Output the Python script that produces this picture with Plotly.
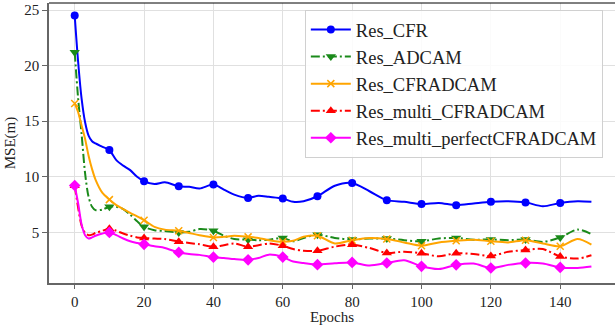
import plotly.graph_objects as go

epochs = [0, 1, 2, 3, 4, 5, 6, 8, 10, 12, 14, 16, 18, 20, 23, 26, 30, 33, 36, 40,
          43, 46, 50, 53, 56, 60, 63, 66, 70, 75, 80, 85, 90, 95, 100, 105, 110,
          115, 120, 125, 130, 135, 140, 145, 149]

res_cfr = [24.5, 20.3, 17.0, 14.9, 13.7, 13.2, 13.0, 12.7, 12.4, 11.5, 11.0, 10.6, 10.0, 9.6,
           9.35, 9.5, 9.15, 9.1, 8.95, 9.3, 8.85, 8.4, 8.1, 8.3, 8.2, 8.05, 7.75, 7.8, 8.25,
           9.2, 9.45, 8.7, 7.9, 7.75, 7.55, 7.65, 7.45, 7.6, 7.75, 7.8, 7.7, 7.35, 7.65, 7.8, 7.75]
res_adcam = [21.2, 17.0, 13.8, 10.3, 8.2, 7.3, 7.0, 7.05, 7.3, 7.3, 7.1, 6.6, 6.0, 5.5,
             5.2, 5.13, 5.0, 5.05, 5.3, 5.15, 4.7, 4.4, 4.35, 4.3, 4.35, 4.5, 4.2, 4.5, 4.8,
             4.5, 4.37, 4.45, 4.45, 4.3, 4.2, 4.45, 4.5, 4.35, 4.37, 4.3, 4.37, 4.15, 4.55, 5.25, 4.85]
res_cfradcam = [16.6, 15.8, 14.6, 13.4, 11.9, 10.7, 9.75, 8.55, 7.95, 7.45, 7.1, 6.75, 6.45, 6.1,
                5.5, 5.25, 5.15, 4.95, 4.75, 4.55, 4.6, 4.7, 4.6, 4.5, 4.3, 4.15, 4.25, 4.6, 4.7,
                4.0, 4.3, 4.5, 4.4, 4.1, 3.8, 4.1, 4.25, 4.35, 4.2, 4.1, 4.3, 4.0, 3.75, 4.4, 3.9]
res_multi_cfradcam = [9.2, 7.2, 5.6, 4.95, 4.75, 4.8, 4.95, 5.15, 5.33, 5.15, 4.9, 4.7, 4.55, 4.5,
                      4.45, 4.4, 4.17, 4.05, 3.93, 3.72, 3.85, 4.0, 3.72, 3.85, 4.0, 3.8, 3.5, 3.35, 3.35,
                      3.72, 3.9, 3.6, 3.15, 3.27, 3.13, 2.85, 3.13, 3.05, 2.88, 3.25, 3.42, 3.5, 2.83, 2.65, 2.95]
res_multi_perfect = [9.22, 7.6, 5.7, 4.75, 4.45, 4.55, 4.7, 4.9, 5.0, 4.75, 4.45, 4.2, 4.05, 3.93,
                     3.75, 3.6, 3.2, 3.05, 2.98, 2.77, 2.7, 2.6, 2.53, 2.7, 3.0, 2.78, 2.38, 2.25, 2.1,
                     2.22, 2.3, 2.02, 2.25, 2.5, 1.95, 1.7, 2.08, 2.2, 1.8, 2.08, 2.25, 2.2, 1.85, 1.8, 1.93]

names = ["Res_CFR", "Res_ADCAM", "Res_CFRADCAM", "Res_multi_CFRADCAM", "Res_multi_perfectCFRADCAM"]
series = [res_cfr, res_adcam, res_cfradcam, res_multi_cfradcam, res_multi_perfect]
colors = ["#0000ff", "#1a8a1a", "#ffa500", "#ff0000", "#ff00ff"]
dashes = ["solid", "9px,3px,2px,3px", "solid", "9px,3px,2px,3px", "solid"]
symbols = ["circle", "triangle-down", "x-thin", "triangle-up", "diamond"]
msizes = [8, 9, 7, 9, 9]

font = "Liberation Serif"
fig = go.Figure()
for i, (name, ys, c, d, s, ms) in enumerate(zip(names, series, colors, dashes, symbols, msizes)):
    fig.add_trace(go.Scatter(x=epochs, y=ys, mode="lines", showlegend=False,
                             line=dict(color=c, width=2, dash=d, shape="spline", smoothing=0.8)))
    mx = [e for e in epochs if e % 10 == 0]
    my = [v for e, v in zip(epochs, ys) if e % 10 == 0]
    fig.add_trace(go.Scatter(x=mx, y=my, mode="markers", showlegend=False,
                             marker=dict(color=c, size=ms, symbol=s,
                                         line=dict(color=c, width=1.5 if s == "x-thin" else 0))))
    fig.add_trace(go.Scatter(x=[None], y=[None], mode="lines+markers", name=name,
                             legendgroup=f"g{i}",
                             line=dict(color=c, width=2, dash=d),
                             marker=dict(color=c, size=ms, symbol=s,
                                         line=dict(color=c, width=1.5 if s == "x-thin" else 0))))

fig.update_layout(
    width=615, height=325,
    margin=dict(l=49, r=0, t=3, b=40),
    plot_bgcolor="white", paper_bgcolor="white",
    font=dict(family=font, size=15, color="#222"),
    legend=dict(x=0.452, y=0.975, xanchor="left", yanchor="top",
                bgcolor="rgba(255,255,255,0.85)", bordercolor="#d0d0d0", borderwidth=1,
                font=dict(family=font, size=18.5, color="#222"), itemwidth=40,
                tracegroupgap=1, traceorder="normal"),
    shapes=[dict(type="line", xref="paper", yref="paper", x0=0, x1=1, y0=1, y1=1,
                 line=dict(color="black", width=1))],
)
fig.update_xaxes(range=[-7.41, 155.8], tickvals=[0, 20, 40, 60, 80, 100, 120, 140],
                 showgrid=True, gridcolor="#e0e0e0", gridwidth=1, zeroline=False,
                 showline=True, linecolor="#666", linewidth=1.5,
                 ticks="outside", ticklen=4, tickcolor="#666",
                 title=dict(text="Epochs", standoff=5, font=dict(size=15)),
                 tickfont=dict(size=15))
fig.update_yaxes(range=[0.45, 25.63], tickvals=[5, 10, 15, 20, 25],
                 showgrid=True, gridcolor="#e0e0e0", gridwidth=1, zeroline=False,
                 showline=True, linecolor="#666", linewidth=1.5,
                 ticks="outside", ticklen=5, tickcolor="#666",
                 title=dict(text="MSE(m)", standoff=5, font=dict(size=15)),
                 tickfont=dict(size=15))

fig.write_html("out.html")
